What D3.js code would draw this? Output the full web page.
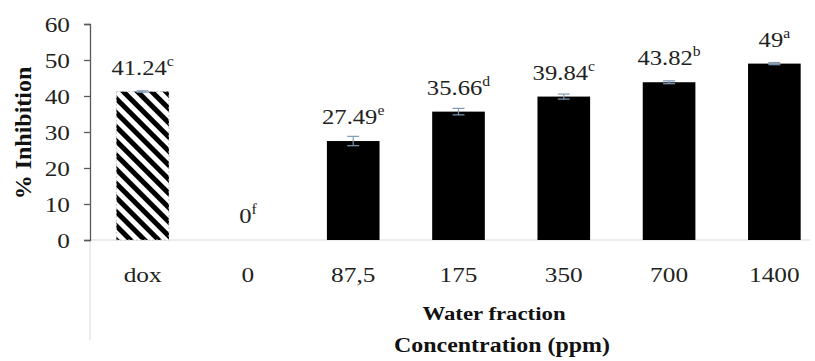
<!DOCTYPE html>
<html>
<head>
<meta charset="utf-8">
<script src="https://cdn.jsdelivr.net/npm/d3@7"></script>
<style>
  html, body { margin: 0; padding: 0; background: #fff; }
  svg { display: block; }
  svg text { font-family: "Liberation Serif", "Times New Roman", serif !important; }
</style>
</head>
<body>
<svg id="chart" width="815" height="361"></svg>
<script>
// Inhibition (%) by concentration, water fraction vs doxorubicin control
const categories = ["dox", "0", "87,5", "175", "350", "700", "1400"];
const inhibition = [41.24, 0, 27.49, 35.66, 39.84, 43.82, 49];
const errors = [0.2, 0, 1.3, 0.9, 0.7, 0.4, 0.3];
const letters = ["c", "f", "e", "d", "c", "b", "a"];
const valueText = ["41.24", "0", "27.49", "35.66", "39.84", "43.82", "49"];
const yTicks = [0, 10, 20, 30, 40, 50, 60];

const svg = d3.select("#chart");

const x = d3.scaleBand().domain(categories).range([90, 827]).paddingInner(0.5).paddingOuter(0.25);
const y = d3.scaleLinear().domain([0, 60]).range([240, 24]);

// widen text horizontally around its anchor point
function widen(sel, sx) {
  sel.each(function () {
    const t = d3.select(this);
    const tx = +t.attr("x") || 0, ty = +t.attr("y") || 0;
    t.attr("x", 0).attr("y", 0)
     .attr("transform", `translate(${tx},${ty}) scale(${sx},1)`);
  });
}

// hatch for the reference compound
const defs = svg.append("defs");
const pat = defs.append("pattern")
  .attr("id", "hatch")
  .attr("patternUnits", "userSpaceOnUse")
  .attr("width", 10).attr("height", 10)
  .attr("patternTransform", "rotate(-45)");
pat.append("rect").attr("width", 10).attr("height", 10).attr("fill", "#fff");
pat.append("rect").attr("x", 0).attr("width", 5).attr("height", 10).attr("fill", "#000");

// category axis lines
svg.append("line")
  .attr("x1", 90).attr("x2", 810).attr("y1", y(0)).attr("y2", y(0))
  .attr("stroke", "#d9d9d9").attr("stroke-width", 1);
svg.append("line")
  .attr("x1", 90).attr("x2", 90).attr("y1", y(0)).attr("y2", 340)
  .attr("stroke", "#d9d9d9").attr("stroke-width", 1);

// bars
const bars = svg.append("g");
bars.selectAll("rect").data(categories).enter().append("rect")
  .attr("x", d => x(d))
  .attr("y", (d, i) => y(inhibition[i]))
  .attr("width", x.bandwidth())
  .attr("height", (d, i) => y(0) - y(inhibition[i]))
  .attr("fill", (d, i) => i === 0 ? "url(#hatch)" : "#000")
  .attr("stroke", (d, i) => i === 0 ? "#c8c8c8" : "none")
  .attr("stroke-dasharray", (d, i) => i === 0 ? "2,2" : null)
  .attr("stroke-width", 1);

// error bars
const eb = svg.append("g").attr("stroke", "#7f9bb8").attr("stroke-width", 1.2);
categories.forEach((c, i) => {
  if (inhibition[i] === 0) return;
  const cx = x(c) + x.bandwidth() / 2;
  const hi = y(inhibition[i] + errors[i]);
  const lo = y(inhibition[i] - errors[i]);
  eb.append("line").attr("x1", cx).attr("x2", cx).attr("y1", hi).attr("y2", lo);
  eb.append("line").attr("x1", cx - 6).attr("x2", cx + 6).attr("y1", hi).attr("y2", hi);
  eb.append("line").attr("x1", cx - 6).attr("x2", cx + 6).attr("y1", lo).attr("y2", lo);
});

// value labels with significance letters
const lbl = svg.append("g").attr("font-size", 22).attr("fill", "#222").attr("text-anchor", "middle");
categories.forEach((c, i) => {
  const t = lbl.append("text")
    .attr("x", x(c) + x.bandwidth() / 2)
    .attr("y", y(inhibition[i]) - 17);
  t.append("tspan").text(valueText[i]);
  t.append("tspan").attr("font-size", 14).attr("dy", -9).text(letters[i]);
});
widen(lbl.selectAll("text"), 1.12);

// y axis
const yAxis = svg.append("g")
  .attr("transform", "translate(90,0)")
  .call(d3.axisLeft(y).tickValues(yTicks).tickSize(6).tickPadding(14));
yAxis.select(".domain").attr("stroke", "#595959").attr("stroke-width", 1.3);
yAxis.selectAll(".tick line").attr("stroke", "#595959").attr("stroke-width", 1.3);
yAxis.selectAll(".tick text").attr("font-size", 22).attr("fill", "#222");
widen(yAxis.selectAll(".tick text"), 1.15);

// x tick labels
const xAxis = svg.append("g")
  .attr("transform", `translate(0,${y(0)})`)
  .call(d3.axisBottom(x).tickSize(0).tickPadding(26));
xAxis.select(".domain").remove();
xAxis.selectAll(".tick text").attr("font-size", 22).attr("fill", "#222");
widen(xAxis.selectAll(".tick text"), 1.15);

// titles
svg.append("text")
  .attr("transform", "translate(31,133) rotate(-90)")
  .attr("text-anchor", "middle")
  .attr("font-size", 24).attr("font-weight", "bold").attr("fill", "#111")
  .text("% Inhibition");
const t1 = svg.append("text")
  .attr("x", 494).attr("y", 320)
  .attr("text-anchor", "middle")
  .attr("font-size", 19).attr("font-weight", "bold").attr("fill", "#111")
  .text("Water fraction");
widen(t1, 1.2);
const t2 = svg.append("text")
  .attr("x", 502).attr("y", 352)
  .attr("text-anchor", "middle")
  .attr("font-size", 21).attr("font-weight", "bold").attr("fill", "#111")
  .text("Concentration (ppm)");
widen(t2, 1.14);
</script>
</body>
</html>
